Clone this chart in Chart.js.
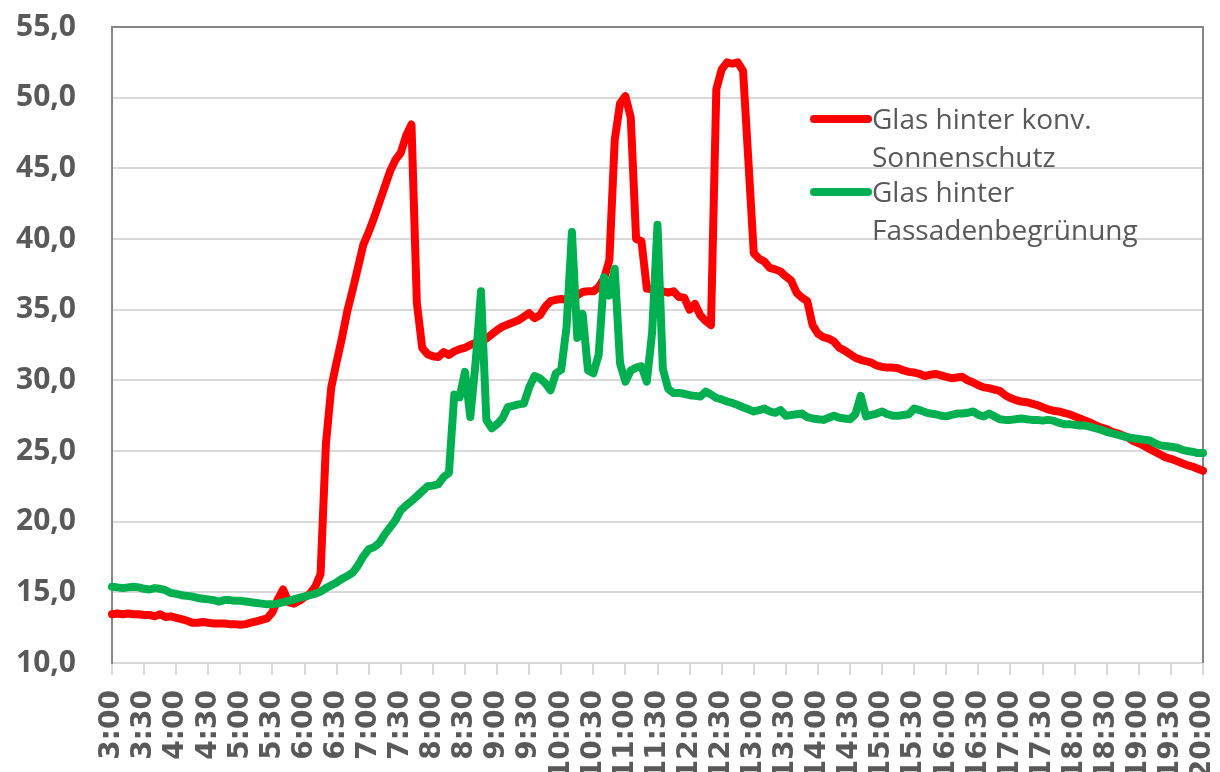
<!DOCTYPE html>
<html lang="de">
<head>
<meta charset="utf-8">
<title>Glastemperatur</title>
<script src="https://cdn.jsdelivr.net/npm/chart.js@4.4.1/dist/chart.umd.min.js"></script>
<style>
html, body { margin: 0; padding: 0; background: #fff; overflow: hidden; }
#wrap { position: relative; width: 1220px; height: 772px; }
</style>
</head>
<body>
<div id="wrap"><canvas id="chart"></canvas></div>
<script>
// Messwerte alle 5 Minuten, 3:00 bis 20:00 (eine Zeile = eine halbe Stunde)
const times = [];
for (let m = 180; m <= 1200; m += 5) {
  times.push(Math.floor(m / 60) + ":" + String(m % 60).padStart(2, "0"));
}

const konvLabel = "Glas hinter konv. Sonnenschutz";
const konvWerte = [
  13.45, 13.5, 13.45, 13.5, 13.45, 13.45,
  13.4, 13.4, 13.3, 13.45, 13.25, 13.3,
  13.2, 13.1, 13.0, 12.85, 12.85, 12.9,
  12.85, 12.8, 12.8, 12.8, 12.75, 12.75,
  12.7, 12.75, 12.85, 12.95, 13.05, 13.15,
  13.6, 14.5, 15.2, 14.3, 14.2, 14.4,
  14.65, 14.9, 15.4, 16.3, 25.5, 29.5,
  31.3, 33.0, 34.9, 36.4, 38.0, 39.6,
  40.5, 41.5, 42.6, 43.7, 44.8, 45.6,
  46.1, 47.3, 48.1, 35.5, 32.3, 31.85,
  31.7, 31.65, 32.0, 31.8, 32.05, 32.2,
  32.3, 32.5, 32.65, 32.8, 32.95, 33.25,
  33.55, 33.8, 33.95, 34.1, 34.25, 34.5,
  34.75, 34.4, 34.6, 35.2, 35.6, 35.7,
  35.75, 35.7, 35.85, 36.0, 36.25, 36.3,
  36.3, 36.6, 37.2, 38.5, 47.0, 49.6,
  50.1, 48.6, 40.0, 39.85, 36.5, 36.45,
  36.4, 36.3, 36.2, 36.3, 35.9, 35.85,
  35.0, 35.4, 34.6, 34.2, 33.9, 50.6,
  52.0, 52.5, 52.4, 52.5, 51.9, 45.5,
  39.0, 38.6, 38.4, 37.95, 37.85, 37.7,
  37.35, 37.05, 36.2, 35.85, 35.6, 33.9,
  33.3, 33.05, 32.95, 32.75, 32.3, 32.1,
  31.85, 31.6, 31.45, 31.35, 31.25, 31.05,
  30.95, 30.9, 30.9, 30.85, 30.7, 30.6,
  30.55, 30.45, 30.3, 30.4, 30.45, 30.35,
  30.25, 30.15, 30.2, 30.25, 30.0, 29.85,
  29.65, 29.5, 29.45, 29.35, 29.25, 28.95,
  28.75, 28.6, 28.5, 28.45, 28.35, 28.25,
  28.1, 27.95, 27.85, 27.8, 27.7, 27.6,
  27.45, 27.3, 27.15, 27.0, 26.8, 26.65,
  26.55, 26.35, 26.25, 26.1, 25.95, 25.7,
  25.55, 25.35, 25.15, 24.95, 24.75, 24.55,
  24.45, 24.3, 24.15, 24.0, 23.9, 23.75,
  23.6
];

const gruenLabel = "Glas hinter Fassadenbegrünung";
const gruenWerte = [
  15.4, 15.35, 15.3, 15.35, 15.4, 15.35,
  15.25, 15.2, 15.3, 15.25, 15.15, 14.95,
  14.9, 14.8, 14.75, 14.7, 14.6, 14.55,
  14.5, 14.45, 14.35, 14.45, 14.45, 14.4,
  14.4, 14.35, 14.3, 14.25, 14.2, 14.15,
  14.15, 14.2, 14.3, 14.4, 14.5, 14.6,
  14.7, 14.8, 14.9, 15.05, 15.3, 15.5,
  15.7, 15.95, 16.15, 16.4, 16.9, 17.55,
  18.05, 18.2, 18.5, 19.1, 19.6, 20.1,
  20.8, 21.15, 21.45, 21.8, 22.15, 22.5,
  22.55, 22.65, 23.15, 23.45, 29.0, 28.8,
  30.6, 27.4, 31.3, 36.3, 27.2, 26.6,
  26.9, 27.3, 28.1, 28.2, 28.3, 28.35,
  29.5, 30.3, 30.15, 29.8, 29.3, 30.5,
  30.75, 33.8, 40.5, 33.0, 34.7, 30.7,
  30.5, 31.8, 37.3, 36.0, 37.9, 31.2,
  29.9, 30.7, 30.9, 31.0, 29.9, 33.4,
  41.0, 30.8, 29.4, 29.1, 29.1, 29.05,
  28.95, 28.9, 28.85, 29.2, 29.0, 28.75,
  28.65, 28.5, 28.4, 28.25, 28.1, 27.95,
  27.8, 27.9, 28.0, 27.8, 27.7, 27.9,
  27.5, 27.55, 27.6, 27.65, 27.4, 27.3,
  27.25, 27.2, 27.35, 27.5, 27.35, 27.3,
  27.25, 27.6, 28.9, 27.45, 27.55, 27.65,
  27.8, 27.6, 27.5, 27.5, 27.55, 27.6,
  28.0, 27.9, 27.75, 27.65, 27.6, 27.5,
  27.45, 27.55, 27.65, 27.65, 27.7, 27.8,
  27.55, 27.45, 27.65, 27.45, 27.25, 27.2,
  27.2, 27.25, 27.3, 27.25, 27.2, 27.2,
  27.15, 27.2, 27.15, 27.0, 26.9, 26.9,
  26.85, 26.8, 26.8, 26.7, 26.6, 26.5,
  26.35, 26.25, 26.15, 26.05, 25.95, 25.9,
  25.85, 25.8, 25.75, 25.55, 25.4, 25.35,
  25.3, 25.25, 25.1, 25.0, 24.95, 24.85,
  24.85
];

const yMin = 10;
const yMax = 55;
const yStep = 5;

const textGrau = "#595959";
const rahmenGrau = "#868686";
const gitterGrau = "#d9d9d9";

// Rahmen oben und rechts (links kommt von der y-Achse)
const rahmenPlugin = {
  id: "rahmen",
  beforeDatasetsDraw(chart) {
    const a = chart.chartArea;
    const c = chart.ctx;
    c.save();
    c.strokeStyle = rahmenGrau;
    c.lineWidth = 2;
    c.beginPath();
    c.moveTo(a.left, a.top);
    c.lineTo(a.right, a.top);
    c.lineTo(a.right, a.bottom);
    c.stroke();
    c.restore();
  }
};

// Legende im Diagramm, Text umbrochen
const legendePlugin = {
  id: "legende",
  afterDatasetsDraw(chart) {
    const a = chart.chartArea;
    const c = chart.ctx;
    const x0 = a.right - 392;
    const maxBreite = 270;
    c.save();
    c.font = "28px 'Open Sans'";
    c.fillStyle = textGrau;
    c.textBaseline = "alphabetic";
    chart.data.datasets.forEach((ds, n) => {
      const y = a.top + 92 + n * 73;
      c.strokeStyle = ds.borderColor;
      c.lineWidth = 8;
      c.lineCap = "round";
      c.beginPath();
      c.moveTo(x0 + 3, y);
      c.lineTo(x0 + 57, y);
      c.stroke();

      const woerter = ds.label.split(" ");
      const zeilen = [];
      let zeile = "";
      woerter.forEach(w => {
        const test = zeile ? zeile + " " + w : w;
        if (zeile && c.measureText(test).width > maxBreite) {
          zeilen.push(zeile);
          zeile = w;
        } else {
          zeile = test;
        }
      });
      zeilen.push(zeile);
      zeilen.forEach((z, k) => c.fillText(z, x0 + 61, y + 10 + k * 38));
    });
    c.restore();
  }
};

// Achsen ohne Zusatzabstand, damit die Zeichenfläche fest sitzt
function ohnePadding(scale) {
  scale.paddingTop = 0;
  scale.paddingBottom = 0;
  scale.paddingLeft = 0;
  scale.paddingRight = 0;
}

const chart = new Chart(document.getElementById("chart"), {
  type: "line",
  data: {
    labels: times,
    datasets: [
      {
        label: konvLabel,
        data: konvWerte,
        borderColor: "#ff0000",
        order: 1
      },
      {
        label: gruenLabel,
        data: gruenWerte,
        borderColor: "#00b050",
        order: 0
      }
    ]
  },
  options: {
    responsive: true,
    maintainAspectRatio: false,
    animation: false,
    layout: { padding: { top: 27, right: 17, left: 0, bottom: 0 } },
    elements: {
      line: {
        borderWidth: 8,
        tension: 0,
        borderCapStyle: "round",
        borderJoinStyle: "round",
        fill: false
      },
      point: { radius: 0, hoverRadius: 0 }
    },
    plugins: {
      legend: { display: false },
      tooltip: { enabled: false }
    },
    scales: {
      x: {
        type: "category",
        offset: false,
        afterFit(scale) { scale.height = 109; ohnePadding(scale); },
        border: { color: gitterGrau, width: 2 },
        grid: {
          drawOnChartArea: false,
          drawTicks: true,
          tickLength: 12,
          lineWidth: 2,
          color: c => (c.index % 6 === 0 ? gitterGrau : "rgba(0,0,0,0)")
        },
        ticks: {
          autoSkip: false,
          minRotation: 90,
          maxRotation: 90,
          padding: 15,
          color: textGrau,
          font: { family: "'DejaVu Sans'", weight: "bold", size: 28, lineHeight: 1 },
          callback(v, i) { return i % 6 === 0 ? this.getLabelForValue(v) : ""; }
        }
      },
      y: {
        min: yMin,
        max: yMax,
        afterFit(scale) { scale.width = 112; ohnePadding(scale); },
        border: { color: rahmenGrau, width: 2 },
        grid: { color: gitterGrau, lineWidth: 2, drawTicks: false },
        ticks: {
          stepSize: yStep,
          padding: 36,
          color: textGrau,
          font: { family: "'Open Sans'", weight: "bold", size: 30 },
          callback: v => v.toFixed(1).replace(".", ",")
        }
      }
    }
  },
  plugins: [rahmenPlugin, legendePlugin]
});
</script>
</body>
</html>
